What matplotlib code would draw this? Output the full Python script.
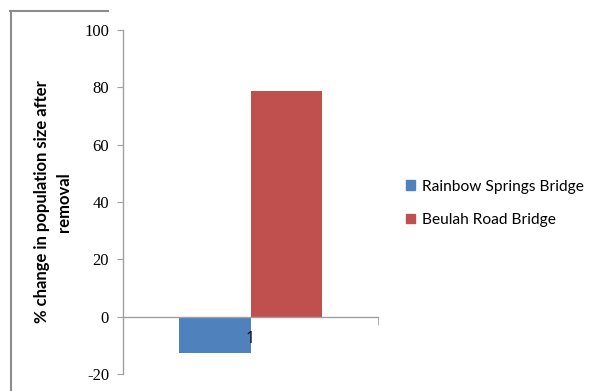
import matplotlib
import matplotlib.pyplot as plt
from matplotlib.lines import Line2D
from matplotlib.patches import Patch

matplotlib.use("Agg")

# bridge removal results, one category
categories = ["1"]
series_names = ["Rainbow Springs Bridge", "Beulah Road Bridge"]
series_values = [[-12.7], [78.8]]
series_colors = ["#4f81bd", "#c0504d"]
y_ticks = [-20, 0, 20, 40, 60, 80, 100]

AXIS_GREY = "#a0a0a0"


def main():
    fig = plt.figure(figsize=(6.03, 3.91), dpi=100)
    ax = fig.add_axes([0.204, 0.0435, 0.423, 0.8795])
    ax.set_axisbelow(False)

    bar_w = 0.282
    for i, (name, vals, col) in enumerate(zip(series_names, series_values, series_colors)):
        xs = [k + (i - 0.5) * bar_w for k in range(len(categories))]
        ax.bar(xs, vals, width=bar_w, color=col, label=name, zorder=1)

    ax.set_xlim(-0.5, len(categories) - 0.5)
    ax.set_ylim(-20, 100)
    ax.set_yticks(y_ticks)
    ax.set_yticklabels([str(t) for t in y_ticks], fontfamily="Liberation Serif", fontsize=12)
    ax.tick_params(axis="y", direction="out", length=4, color=AXIS_GREY, pad=6)

    # category axis crosses at zero
    for side in ("top", "right"):
        ax.spines[side].set_visible(False)
    ax.spines["bottom"].set_position(("data", 0))
    for side in ("left", "bottom"):
        ax.spines[side].set_color(AXIS_GREY)
        ax.spines[side].set_linewidth(1.0)
    ax.set_xticks(range(len(categories)))
    ax.set_xticklabels(categories, fontfamily="Open Sans", fontsize=11.5, color="black")
    ax.set_xticks([k + 0.5 for k in range(len(categories))], minor=True)
    ax.tick_params(axis="x", which="major", length=0, pad=10)
    ax.tick_params(axis="x", which="minor", direction="out", length=6, color=AXIS_GREY)

    ax.set_ylabel("% change in population size after\nremoval", fontfamily="Lato",
                  fontweight="bold", fontsize=12, linespacing=1.45, labelpad=9)

    handles = [Patch(color=c) for c in series_colors]
    fig.legend(handles, series_names, loc="center left", bbox_to_anchor=(0.65, 0.48),
               frameon=False, prop={"family": "Lato", "size": 11.2},
               handlelength=0.6, handleheight=0.6, handletextpad=0.45, labelspacing=1.25)

    # partial outer frame
    fig.add_artist(Line2D([11 / 603, 11 / 603], [0, 1 - 11 / 391], color="#8c8c8c", lw=1.5))
    fig.add_artist(Line2D([10 / 603, 108 / 603], [1 - 11 / 391, 1 - 11 / 391], color="#8c8c8c", lw=1.5))

    fig.savefig("out.png", dpi=100)
    plt.close(fig)


if __name__ == "__main__":
    main()
